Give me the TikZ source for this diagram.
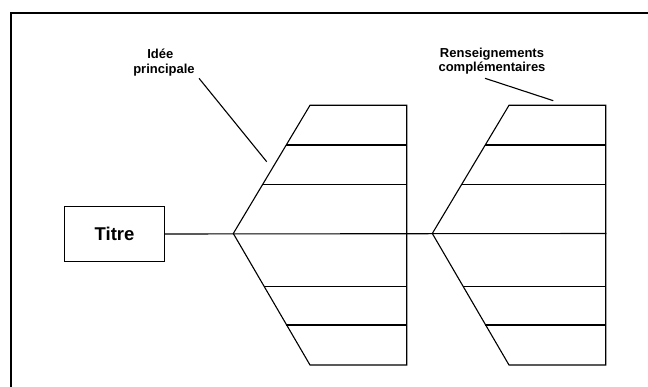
\documentclass[tikz,border=0pt]{standalone}
\usepackage{fontspec}
\setmainfont{Liberation Sans}
\begin{document}
\begin{tikzpicture}[x=1pt,y=-1pt,
  ln/.style={line width=1.1pt,line cap=rect},
  frame/.style={line width=1.7pt},
  lbl/.style={font=\fontsize{13}{14}\selectfont\bfseries,inner sep=0pt,anchor=base},
  titlebox/.style={draw,line width=1.1pt,minimum width=100pt,minimum height=54.5pt,inner sep=0pt,font=\fontsize{18.5}{20}\selectfont\bfseries}]
\useasboundingbox (0,0) rectangle (648,387);
% frame (only top and left visible)
\draw[frame] (10.7,400) -- (10.7,12.7) -- (660,12.7);
% title
\node[titlebox] (titre) at (114.6,234) {Titre};
\coordinate (endline) at (605.7,233.5);
\draw[ln] (titre.east) -- (endline);
% fishbone shapes
\foreach \dx/\nm in {0/a,199/b}{
  \coordinate (\nm apex) at (233.3+\dx,233.5);
  \coordinate (\nm tl) at (310+\dx,105.3);
  \coordinate (\nm bl) at (310+\dx,365);
  \coordinate (\nm tr) at (406.7+\dx,105.3);
  \coordinate (\nm br) at (406.7+\dx,365);
  \draw[ln] (\nm tr) -- (\nm tl) -- (\nm apex) -- (\nm bl) -- (\nm br) -- cycle;
  \draw[ln] (286.2+\dx,145) -- (406.7+\dx,145);
  \draw[ln] (262.7+\dx,184.3) -- (406.7+\dx,184.3);
  \draw[ln] (264.4+\dx,286.7) -- (406.7+\dx,286.7);
  \draw[ln] (286.7+\dx,325) -- (406.7+\dx,325);
}
% labels
\node[lbl] (l1a) at (160.3,59) {Idée};
\node[lbl] (l1b) at (164,73.3) {principale};
\node[lbl] (l2a) at (492,57.3) {Renseignements};
\node[lbl] (l2b) at (492,71.7) {complémentaires};
\coordinate (p1s) at (199,78.3);
\coordinate (p1e) at (266.7,161.7);
\coordinate (p2s) at (485,78.3);
\coordinate (p2e) at (553.3,100.7);
\draw[ln,line cap=butt] (p1s) -- (p1e);
\draw[ln,line cap=butt] (p2s) -- (p2e);
\end{tikzpicture}
\end{document}
